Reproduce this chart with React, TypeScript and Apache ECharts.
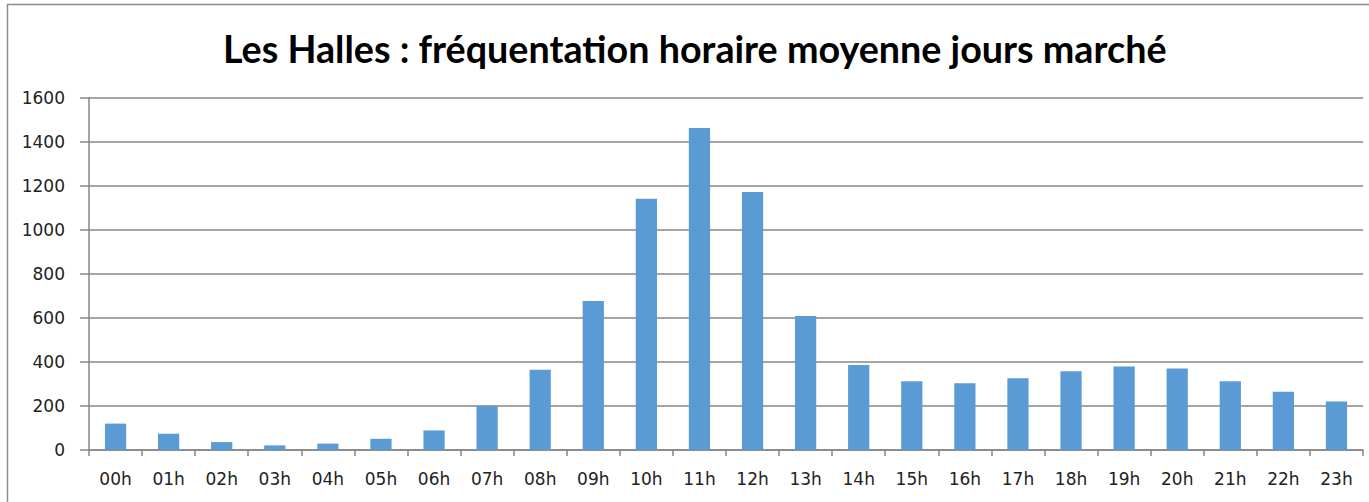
import React, { useEffect, useRef } from "react";
import * as echarts from "echarts";

const titleText = "Les Halles : fréquentation horaire moyenne jours marché";
const hours = ["00h","01h","02h","03h","04h","05h","06h","07h","08h","09h","10h","11h","12h","13h","14h","15h","16h","17h","18h","19h","20h","21h","22h","23h"];
const frequentation = [120, 74, 36, 21, 29, 51, 89, 200, 365, 677, 1142, 1464, 1173, 609, 386, 312, 303, 326, 358, 380, 371, 312, 265, 220];
const yMax = 1600;
const yStep = 200;

export default function App() {
  const ref = useRef<HTMLDivElement>(null);
  useEffect(() => {
    if (!ref.current) return;
    const chart = echarts.init(ref.current, null, { renderer: "svg" });
    chart.setOption({
      animation: false,
      backgroundColor: "#ffffff",
      graphic: [
        {
          type: "rect",
          shape: { x: 7.5, y: 4.5, width: 1400, height: 600 },
          style: { fill: "none", stroke: "#8c8c8c", lineWidth: 1.5 },
          silent: true,
        },
      ],
      title: {
        text: titleText,
        left: 218,
        top: 24,
        textStyle: {
          fontFamily: "Lato",
          fontWeight: "bold",
          fontSize: 37.7,
          color: "#000000",
        },
      },
      grid: { left: 89, right: 6, top: 98, bottom: 52, containLabel: false },
      xAxis: {
        type: "category",
        data: hours,
        boundaryGap: true,
        axisLine: { lineStyle: { color: "#868686", width: 1.5 } },
        axisTick: { show: true, length: 6, alignWithLabel: false, lineStyle: { color: "#868686", width: 1.5 } },
        axisLabel: { fontFamily: "DejaVu Sans", fontSize: 17, color: "#222222", margin: 20, interval: 0 },
      },
      yAxis: {
        type: "value",
        min: 0,
        max: yMax,
        interval: yStep,
        axisLine: { show: true, lineStyle: { color: "#868686", width: 1.5 } },
        axisTick: { show: true, length: 9, lineStyle: { color: "#868686", width: 1.5 } },
        splitLine: { show: true, lineStyle: { color: "#868686", width: 1.5 } },
        axisLabel: {
          fontFamily: "DejaVu Sans",
          fontSize: 17,
          color: "#222222",
          margin: 24,
          formatter: (v: number) => String(v),
        },
      },
      series: [
        {
          type: "bar",
          data: frequentation,
          barWidth: "40%",
          itemStyle: { color: "#5b9bd5" },
        },
      ],
    });
    return () => chart.dispose();
  }, []);
  return (
    <div
      ref={ref}
      style={{ position: "fixed", left: 0, top: 0, width: 1369, height: 502, background: "#fff" }}
    />
  );
}
